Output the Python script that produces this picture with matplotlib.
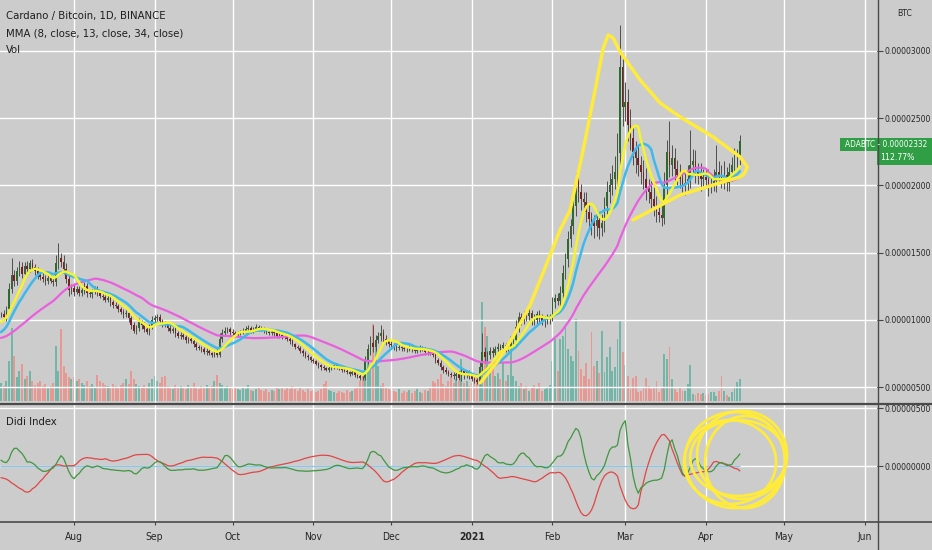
import numpy as np
import pandas as pd
import matplotlib
matplotlib.use("Agg")
import matplotlib.pyplot as plt
import matplotlib.dates as mdates
from matplotlib import font_manager as fm
from matplotlib.patches import Ellipse, Rectangle
from matplotlib.lines import Line2D

# pick a narrow sans face if one is installed
faces = {(f.name, f.stretch) for f in fm.fontManager.ttflist}
if any(n == 'Liberation Sans Narrow' for n, s in faces):
    fam, stretch = 'Liberation Sans Narrow', 'normal'
elif ('DejaVu Sans', 'condensed') in faces:
    fam, stretch = 'DejaVu Sans', 'condensed'
elif any(n == 'Roboto Condensed' for n, s in faces):
    fam, stretch = 'Roboto Condensed', 'normal'
else:
    fam, stretch = 'Liberation Sans', 'normal'
plt.rcParams['font.family'] = [fam, 'DejaVu Sans']
plt.rcParams['font.stretch'] = stretch

# ---- data (prices in satoshi, 1e-8 BTC) ----
start = pd.Timestamp('2020-07-04')

# closes before the visible window, only used to warm up the averages
warmup_close = [820, 830, 850, 840, 860, 850, 840, 830, 845, 850, 860, 840, 830, 825, 835, 840,
                830, 830, 840, 835, 830, 810, 790, 780, 785, 790, 900, 930, 960, 980, 1000, 1020, 1040]

close = [
    1040, 1020, 1080, 1230, 1330, 1290, 1360, 1390, 1340, 1400,
    1380, 1420, 1390, 1360, 1330, 1320, 1300, 1290, 1310, 1290,
    1280, 1420, 1460, 1430, 1380, 1300, 1220, 1240, 1210, 1230,
    1200, 1220, 1250, 1200, 1190, 1210, 1230, 1200, 1180, 1170,
    1150, 1160, 1130, 1110, 1100, 1080, 1060, 1040, 1050, 1010,
    960, 920, 940, 980, 960, 930, 910, 950, 1000, 1010,
    1020, 990, 970, 960, 940, 920, 930, 900, 880, 890,
    870, 850, 860, 840, 820, 800, 790, 780, 760, 770,
    750, 740, 760, 740, 860, 900, 920, 930, 910, 900,
    890, 900, 910, 920, 930, 940, 920, 930, 950, 940,
    930, 920, 910, 900, 910, 900, 880, 890, 880, 870,
    860, 840, 820, 800, 790, 770, 750, 730, 720, 700,
    690, 670, 660, 650, 640, 630, 640, 650, 660, 650,
    640, 630, 620, 610, 600, 610, 590, 580, 570, 565,
    700, 780, 830, 800, 850, 880, 900, 860, 840, 820,
    810, 800, 790, 800, 790, 785, 780, 790, 780, 770,
    780, 790, 780, 760, 760, 750, 740, 700, 680, 650,
    630, 610, 600, 590, 580, 600, 570, 620, 590, 610,
    580, 560, 550, 540, 650, 760, 720, 740, 770, 750,
    780, 800, 790, 810, 790, 800, 820, 850, 950, 1020,
    1000, 1040, 1030, 1050, 1010, 1000, 1040, 1020, 990, 1000,
    1010, 1020, 1130, 1160, 1140, 1200, 1350, 1450, 1600, 1700,
    1850, 2050, 1950, 1900, 1880, 1800, 1750, 1720, 1700, 1740,
    1680, 1720, 1850, 1950, 2000, 2050, 2100, 2240, 2880, 2580,
    2620, 2450, 2350, 2250, 2200, 2150, 2100, 2050, 1980, 1950,
    1900, 1850, 1800, 1780, 1760, 2000, 2250, 2150, 2200, 2120,
    2080, 2050, 2000, 2020, 2050, 2150, 2180, 2100, 2080, 2050,
    2060, 2040, 2000, 2010, 2030, 2100, 2080, 2050, 2080, 2020,
    2100, 2150, 2200, 2200, 2332,
]

wick_up = [
    20, 30, 25, 40, 130, 40, 35, 45, 40, 30,
    35, 25, 30, 25, 30, 20, 25, 30, 25, 20,
    25, 60, 110, 40, 50, 40, 30, 25, 30, 25,
    20, 25, 30, 20, 25, 20, 25, 20, 20, 25,
    20, 25, 20, 15, 20, 20, 15, 20, 25, 20,
    20, 25, 20, 30, 15, 20, 25, 20, 30, 25,
    20, 25, 15, 20, 15, 20, 15, 20, 15, 20,
    15, 20, 15, 15, 20, 15, 10, 15, 15, 20,
    15, 10, 15, 20, 40, 30, 25, 20, 15, 20,
    15, 20, 15, 20, 25, 20, 15, 20, 15, 10,
    15, 20, 15, 10, 15, 15, 20, 15, 10, 15,
    15, 20, 15, 10, 15, 15, 10, 15, 15, 10,
    15, 10, 15, 10, 15, 10, 20, 15, 10, 15,
    10, 15, 10, 15, 10, 15, 10, 10, 15, 10,
    30, 40, 50, 130, 40, 30, 60, 30, 25, 20,
    20, 15, 20, 15, 20, 15, 15, 20, 15, 20,
    15, 20, 15, 20, 15, 20, 15, 20, 15, 20,
    15, 20, 15, 15, 20, 15, 20, 25, 15, 20,
    15, 20, 15, 15, 40, 140, 40, 30, 25, 30,
    25, 30, 20, 25, 20, 25, 30, 40, 50, 40,
    30, 25, 30, 40, 25, 30, 25, 30, 20, 25,
    30, 25, 40, 30, 40, 50, 60, 50, 60, 50,
    60, 40, 70, 60, 50, 70, 60, 50, 60, 80,
    60, 70, 60, 80, 90, 100, 120, 150, 310, 100,
    150, 100, 120, 90, 80, 100, 70, 90, 80, 70,
    80, 90, 70, 60, 80, 100, 90, 230, 100, 80,
    70, 80, 60, 90, 100, 260, 90, 80, 70, 90,
    60, 70, 80, 60, 90, 200, 80, 70, 100, 60,
    70, 60, 80, 70, 40,
]

wick_dn = [
    20, 25, 30, 20, 30, 40, 30, 35, 30, 25,
    30, 25, 20, 30, 25, 25, 20, 30, 25, 20,
    30, 25, 40, 35, 40, 30, 40, 25, 30, 20,
    25, 20, 25, 30, 20, 25, 20, 25, 20, 25,
    20, 15, 25, 20, 15, 20, 20, 25, 20, 30,
    30, 20, 25, 20, 25, 20, 15, 20, 20, 25,
    20, 25, 20, 15, 20, 15, 20, 25, 15, 20,
    15, 20, 25, 15, 20, 25, 15, 20, 15, 20,
    15, 20, 15, 15, 20, 25, 15, 20, 20, 15,
    15, 20, 15, 15, 20, 15, 15, 20, 15, 20,
    15, 20, 15, 10, 15, 20, 15, 15, 20, 15,
    15, 20, 15, 15, 10, 15, 20, 15, 20, 15,
    15, 10, 15, 20, 15, 10, 15, 10, 15, 15,
    10, 15, 10, 15, 15, 10, 15, 10, 15, 10,
    15, 30, 40, 40, 30, 25, 40, 30, 30, 25,
    20, 25, 20, 15, 20, 15, 20, 15, 20, 15,
    15, 20, 15, 20, 20, 15, 20, 25, 20, 20,
    25, 15, 20, 15, 20, 25, 20, 25, 30, 20,
    20, 15, 20, 15, 25, 40, 40, 30, 30, 25,
    25, 30, 30, 25, 30, 25, 30, 30, 40, 40,
    40, 30, 40, 30, 50, 40, 30, 40, 30, 40,
    30, 40, 30, 40, 30, 40, 40, 50, 60, 60,
    60, 80, 70, 80, 60, 70, 80, 90, 90, 80,
    80, 60, 70, 60, 80, 70, 80, 100, 120, 140,
    100, 120, 90, 100, 110, 80, 90, 80, 90, 80,
    90, 80, 70, 50, 60, 50, 80, 90, 80, 90,
    80, 70, 60, 70, 80, 70, 60, 80, 70, 90,
    70, 60, 80, 60, 50, 80, 60, 70, 80, 60,
    60, 70, 60, 80, 50,
]

# volume, arbitrary units
volume = [
    18, 15, 20, 40, 73, 45, 24, 30, 37, 22,
    25, 30, 20, 16, 18, 20, 15, 17, 14, 15,
    18, 55, 30, 72, 35, 28, 24, 22, 24, 20,
    22, 18, 16, 20, 15, 17, 14, 26, 20, 18,
    16, 15, 14, 17, 15, 14, 16, 18, 22, 17,
    30, 22, 17, 15, 14, 16, 13, 18, 22, 25,
    20, 18, 24, 25, 15, 14, 12, 16, 13, 15,
    14, 12, 16, 13, 18, 14, 12, 15, 13, 16,
    14, 15, 20, 26, 18, 16, 14, 15, 13, 12,
    14, 12, 11, 13, 12, 16, 11, 10, 12, 14,
    11, 10, 12, 9, 11, 10, 13, 12, 14, 11,
    13, 12, 15, 12, 10, 14, 11, 9, 12, 10,
    11, 9, 10, 12, 17, 20, 11, 10, 9, 8,
    10, 9, 8, 11, 9, 10, 12, 14, 20, 25,
    30, 47, 35, 77, 58, 35, 15, 18, 14, 12,
    11, 10, 9, 12, 8, 10, 9, 11, 8, 10,
    12, 9, 8, 11, 10, 14, 20, 18, 22, 27,
    17, 15, 20, 25, 18, 22, 20, 42, 18, 20,
    15, 18, 22, 25, 20, 99, 74, 65, 30, 33,
    25, 28, 22, 38, 20, 26, 65, 25, 20, 15,
    18, 12, 15, 10, 14, 16, 12, 18, 10, 12,
    14, 16, 40, 62, 30, 62, 65, 77, 52, 45,
    40, 82, 50, 32, 25, 38, 22, 69, 35, 40,
    28, 70, 29, 44, 54, 30, 34, 62, 80, 49,
    36, 25, 14, 23, 25, 9, 10, 14, 23, 15,
    12, 14, 20, 9, 14, 47, 42, 54, 22, 12,
    9, 13, 10, 10, 17, 36, 7, 6, 8, 7,
    8, 6, 7, 9, 9, 5, 10, 25, 10, 6,
    4, 9, 13, 19, 22,
]

# hand drawn triangle (day offset from start, satoshi)
sketch_day = [184.2, 190.7, 196.8, 203.4, 209.9, 214.9, 218.8, 223.8, 228.4, 231.5, 233.4,
              235.3, 238.0, 245.7, 253.4, 261.1, 273.8, 284.2, 286.9, 285.7, 284.2, 273.8,
              261.1, 243.0]
sketch_val = [530, 686, 872, 1110, 1423, 1668, 1817, 2263, 2710, 3022, 3119,
              3097, 2993, 2784, 2613, 2509, 2360, 2211, 2137, 2085, 2063, 2003,
              1929, 1743]

# hand drawn scribble loops in the Didi pane
loop_day = [282.2, 284.9, 280.3, 286.1, 283.4]
loop_val = [52, 95, 34, 34, 69]
loop_w = [38.5, 34.6, 35.4, 30.8, 36.9]
loop_h = [828, 759, 724, 793, 655]

price_ticks = [500, 1000, 1500, 2000, 2500, 3000]
didi_ticks = [0, 500]

# ---- derived series ----
sat = 1e-8
days = pd.date_range(start, periods=len(close), freq='D')
all_idx = pd.date_range(start - pd.Timedelta(days=len(warmup_close)),
                        periods=len(warmup_close) + len(close), freq='D')
all_close = pd.Series(warmup_close + close, index=all_idx, dtype=float) * sat

x = mdates.date2num(days)
c = np.array(close) * sat
o = np.r_[warmup_close[-1], close[:-1]] * sat
hi = np.maximum(o, c) + np.array(wick_up) * sat
lo = np.minimum(o, c) - np.array(wick_dn) * sat
up = c >= o

ma8 = all_close.rolling(8).mean().loc[days].values
ma13 = all_close.rolling(13).mean().loc[days].values
ma34 = all_close.rolling(34).mean().loc[days].values
sma3 = all_close.rolling(3).mean()
sma8 = all_close.rolling(8).mean()
sma20 = all_close.rolling(20).mean()
didi_fast = (sma3 - sma8).loc[days].values
didi_slow = (sma20 - sma8).loc[days].values

# ---- figure ----
W, H = 932, 550
bg = '#cccccc'
fig = plt.figure(figsize=(W / 100, H / 100), dpi=100, facecolor=bg)
renderer = fig.canvas.get_renderer()


def size_for(s, width_px):
    # font size that makes string s about width_px wide
    t = fig.text(0, 0, s, fontsize=10)
    w = t.get_window_extent(renderer).width
    t.remove()
    return 10 * width_px / w


title_fs = size_for('Cardano / Bitcoin, 1D, BINANCE', 160)
tick_fs = size_for('0.00003000', 47.5)
date_fs = size_for('Aug', 18)

ax = fig.add_axes([0, 1 - 403 / H, 877 / W, 403 / H])
ax2 = fig.add_axes([0, 1 - 521 / H, 877 / W, 116 / H], sharex=ax)
vax = ax.twinx()
ax.set_zorder(vax.get_zorder() + 1)
for a in (ax, ax2, vax):
    a.patch.set_visible(False)
    for s in a.spines.values():
        s.set_visible(False)

x0 = mdates.date2num(start)
ax.set_xlim(x0 - 0.46, x0 + 336.8)
ax.set_ylim(381 * sat, 3379 * sat)
ax2.set_ylim(-474 * sat, 526 * sat)
vax.set_ylim(-2, 401)
vax.set_yticks([])

# volume
vcol = np.where(up, '#64b3a2', '#ec8f88')
vax.bar(x, volume, width=0.75, color=vcol, alpha=0.85, linewidth=0)

# candles
ax.vlines(x, lo, hi, color='#4f4f4f', lw=0.7, zorder=3)
body_lo = np.minimum(o, c)
body_h = np.maximum(np.abs(c - o), 3 * sat)
ax.bar(x, body_h, bottom=body_lo, width=0.62, color=np.where(up, '#2d6a2d', '#7a2020'),
       linewidth=0, zorder=4)

# moving averages
ax.plot(x, ma34, color='#ea5fe0', lw=1.6, zorder=5)
ax.plot(x, ma13, color='#3db9ea', lw=1.8, zorder=6)
ax.plot(x, ma8, color='#f4f42a', lw=1.8, zorder=7)

# hand drawn triangle
sk_x = x0 + np.array(sketch_day)
ax.plot(sk_x, np.array(sketch_val) * sat, color='#ffeb3b', lw=2.5, solid_capstyle='round',
        solid_joinstyle='round', zorder=8)

# grid
months = pd.date_range('2020-08-01', '2021-06-01', freq='MS')
mticks = mdates.date2num(months)
mlabels = ['2021' if m.month == 1 else m.strftime('%b') for m in months]
for a in (ax, ax2):
    a.set_xticks(mticks)
    a.grid(True, color='white', lw=1.0, zorder=0)
    a.set_axisbelow(True)
ax.tick_params(axis='x', which='both', length=0, labelbottom=False)

fmt = plt.FuncFormatter(lambda v, p: f'{v:.8f}')
ax.set_yticks(np.array(price_ticks) * sat)
ax.yaxis.tick_right()
ax.yaxis.set_major_formatter(fmt)
ax.tick_params(axis='y', length=4, color='#444444', labelcolor='#262626', labelsize=tick_fs, pad=1.5)

# Didi index
ax2.hlines(0, x0 - 0.46, x[-1], color='#8cc6e6', lw=1.0, zorder=2)
ax2.plot(x, didi_slow, color='#e04646', lw=0.9, zorder=3)
ax2.plot(x, didi_fast, color='#3f973f', lw=0.9, zorder=4)
for d, v, w, h in zip(loop_day, loop_val, loop_w, loop_h):
    ax2.add_patch(Ellipse((x0 + d, v * sat), w, h * sat, fill=False, ec='#ffeb3b', lw=2.0, zorder=6))
ax2.set_yticks(np.array(didi_ticks) * sat)
ax2.yaxis.tick_right()
ax2.yaxis.set_major_formatter(fmt)
ax2.tick_params(axis='y', length=4, color='#444444', labelcolor='#262626', labelsize=tick_fs, pad=1.5)
ax2.set_xticklabels(mlabels)
ax2.tick_params(axis='x', length=3, color='#444444', labelcolor='#262626', labelsize=date_fs, pad=5)
for t in ax2.get_xticklabels():
    if t.get_text() == '2021':
        t.set_fontweight('bold')


# frame lines
def fx(px):
    return px / W


def fy(py):
    return 1 - py / H


fig.add_artist(Line2D([0, 1], [fy(404), fy(404)], color='#4a4a4a', lw=1.6))
fig.add_artist(Line2D([0, 1], [fy(521.5), fy(521.5)], color='#4a4a4a', lw=1.2))
fig.add_artist(Line2D([fx(877.5), fx(877.5)], [0, 1], color='#4a4a4a', lw=1.0))

# texts
txt = dict(color='#1e1e1e', fontsize=title_fs, va='center', ha='left')
fig.text(fx(6), fy(16), 'Cardano / Bitcoin, 1D, BINANCE', **txt)
fig.text(fx(6), fy(33), 'MMA (8, close, 13, close, 34, close)', **txt)
fig.text(fx(6), fy(50), 'Vol', **txt)
fig.text(fx(6), fy(422), 'Didi Index', **txt)
fig.text(fx(905), fy(14), 'BTC', color='#262626', fontsize=tick_fs, ha='center', va='center')

# last price label
ylast = ax.transData.transform((x[-1], c[-1]))[1]
ytop = H - ylast
green = '#2f9e44'
fig.add_artist(Rectangle((fx(840), fy(ytop + 10)), 92 / W, 13 / H, transform=fig.transFigure,
                         facecolor=green, edgecolor='none'))
fig.add_artist(Rectangle((fx(877), fy(ytop + 24)), 55 / W, 14 / H, transform=fig.transFigure,
                         facecolor=green, edgecolor='none'))
fig.text(fx(886), fy(ytop + 3.5), f'ADABTC - {c[-1]:.8f}', color='white', fontsize=tick_fs * 0.95,
         ha='center', va='center')
fig.text(fx(897), fy(ytop + 17), '112.77%', color='white', fontsize=tick_fs, ha='center', va='center')

fig.savefig('out.png', dpi=100, facecolor=bg)
